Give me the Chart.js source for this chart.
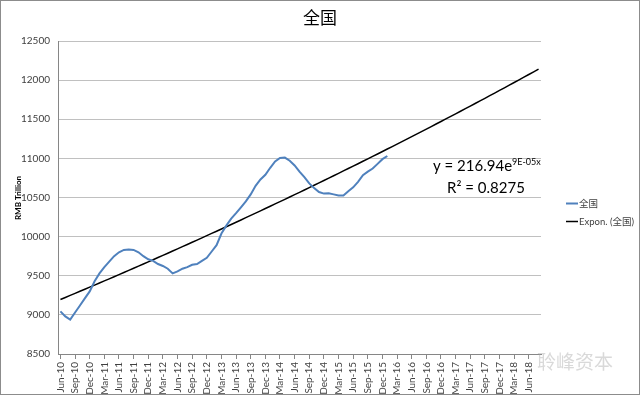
<!DOCTYPE html>
<html>
<head>
<meta charset="utf-8">
<title>全国</title>
<script src="https://cdn.jsdelivr.net/npm/chart.js@4.4.1/dist/chart.umd.min.js"></script>
<style>
  html, body { margin: 0; padding: 0; background: #fff; }
  canvas { display: block; }
</style>
</head>
<body>
<canvas id="lineChart" width="640" height="395"></canvas>
<script>
// Monthly categories, Jun-10 .. Aug-18
const months = [
    'Jun-10', 'Jul-10', 'Aug-10', 'Sep-10', 'Oct-10', 'Nov-10', 'Dec-10',
    'Jan-11', 'Feb-11', 'Mar-11', 'Apr-11', 'May-11', 'Jun-11', 'Jul-11', 'Aug-11', 'Sep-11', 'Oct-11', 'Nov-11', 'Dec-11',
    'Jan-12', 'Feb-12', 'Mar-12', 'Apr-12', 'May-12', 'Jun-12', 'Jul-12', 'Aug-12', 'Sep-12', 'Oct-12', 'Nov-12', 'Dec-12',
    'Jan-13', 'Feb-13', 'Mar-13', 'Apr-13', 'May-13', 'Jun-13', 'Jul-13', 'Aug-13', 'Sep-13', 'Oct-13', 'Nov-13', 'Dec-13',
    'Jan-14', 'Feb-14', 'Mar-14', 'Apr-14', 'May-14', 'Jun-14', 'Jul-14', 'Aug-14', 'Sep-14', 'Oct-14', 'Nov-14', 'Dec-14',
    'Jan-15', 'Feb-15', 'Mar-15', 'Apr-15', 'May-15', 'Jun-15', 'Jul-15', 'Aug-15', 'Sep-15', 'Oct-15', 'Nov-15', 'Dec-15',
    'Jan-16', 'Feb-16', 'Mar-16', 'Apr-16', 'May-16', 'Jun-16', 'Jul-16', 'Aug-16', 'Sep-16', 'Oct-16', 'Nov-16', 'Dec-16',
    'Jan-17', 'Feb-17', 'Mar-17', 'Apr-17', 'May-17', 'Jun-17', 'Jul-17', 'Aug-17', 'Sep-17', 'Oct-17', 'Nov-17', 'Dec-17',
    'Jan-18', 'Feb-18', 'Mar-18', 'Apr-18', 'May-18', 'Jun-18', 'Jul-18', 'Aug-18'
];

// 全国 series (RMB Trillion), Jun-10 .. Jan-16
const nationalValues = [
    9045, 8980, 8940, 9030, 9120, 9210, 9300, 9430, 9530, 9610,
    9680, 9750, 9800, 9830, 9835, 9830, 9800, 9750, 9710, 9690,
    9650, 9625, 9590, 9530, 9555, 9590, 9610, 9640, 9650, 9690,
    9730, 9810, 9890, 10040, 10140, 10230, 10300, 10375, 10450, 10540,
    10650, 10730, 10790, 10880, 10960, 11005, 11010, 10970, 10910, 10830,
    10760, 10680, 10620, 10570, 10550, 10555, 10540, 10525, 10525, 10580,
    10630, 10700, 10785, 10830, 10870, 10930, 10990, 11030
];

const yTicks = [8500, 9000, 9500, 10000, 10500, 11000, 11500, 12000, 12500];
const equationText = 'y = 216.94e';
const equationExp = '9E-05x';
const r2Text = 'R² = 0.8275';

// Exponential trendline (least squares on ln y), extended over all months
let sx = 0, sy = 0, sxx = 0, sxy = 0;
nationalValues.forEach(function(v, i) {
    const l = Math.log(v);
    sx += i; sy += l; sxx += i * i; sxy += i * l;
});
const n = nationalValues.length;
const b = (n * sxy - sx * sy) / (n * sxx - sx * sx);
const a = Math.exp((sy - b * sx) / n);
const trendValues = months.map(function(m, i) { return a * Math.exp(b * i); });

const seriesData = months.map(function(m, i) {
    return i < nationalValues.length ? nationalValues[i] : null;
});

const latin = 'Lato, "Noto Sans CJK SC", sans-serif';
const cjk = '"Noto Sans CJK SC", Lato, sans-serif';

// Title, axis title, legend, equation, watermark and border
const decorations = {
    id: 'decorations',
    afterDraw: function(chart) {
        const c = chart.ctx;
        c.save();

        c.fillStyle = '#000';
        c.font = '17px ' + cjk;
        c.textAlign = 'center';
        c.textBaseline = 'middle';
        c.fillText('全国', 320, 18);

        c.save();
        c.translate(18, 198);
        c.rotate(-Math.PI / 2);
        c.font = 'bold 8px ' + latin;
        c.fillText('RMB Trillion', 0, 0);
        c.restore();

        // legend
        c.lineWidth = 2;
        c.strokeStyle = '#4F81BD';
        c.beginPath(); c.moveTo(566, 203.5); c.lineTo(578, 203.5); c.stroke();
        c.strokeStyle = '#000';
        c.lineWidth = 1.5;
        c.beginPath(); c.moveTo(566, 221.5); c.lineTo(578, 221.5); c.stroke();
        c.fillStyle = '#404040';
        c.textAlign = 'left';
        c.font = '9.5px ' + latin;
        c.fillText('全国', 579, 204);
        c.fillText('Expon. (全国)', 579, 222);

        // equation
        c.fillStyle = '#000';
        c.textBaseline = 'alphabetic';
        c.font = '15px ' + latin;
        c.fillText(equationText, 433, 171);
        const w = c.measureText(equationText).width;
        c.font = '9px ' + latin;
        c.fillText(equationExp, 433 + w, 165);
        c.font = '15px ' + latin;
        c.fillText(r2Text, 447, 193);

        // watermark
        c.fillStyle = 'rgba(170, 170, 170, 0.45)';
        c.font = '19px ' + cjk;
        c.textBaseline = 'middle';
        c.fillText('聆峰资本', 537, 362);

        c.strokeStyle = '#8c8c8c';
        c.lineWidth = 1;
        c.strokeRect(0.5, 0.5, 639, 394);
        c.restore();
    }
};

const ctx = document.getElementById('lineChart').getContext('2d');
const lineChart = new Chart(ctx, {
    type: 'line',
    data: {
        labels: months,
        datasets: [{
            label: '全国',
            data: seriesData,
            borderColor: '#4F81BD',
            borderWidth: 2,
            pointRadius: 0,
            tension: 0,
            spanGaps: false
        }, {
            label: 'Expon. (全国)',
            data: trendValues,
            borderColor: '#000',
            borderWidth: 1.5,
            pointRadius: 0,
            tension: 0
        }]
    },
    options: {
        responsive: false,
        animation: false,
        devicePixelRatio: 1,
        layout: { padding: { left: 0, top: 41, right: 99, bottom: 0 } },
        plugins: {
            legend: { display: false },
            title: { display: false },
            tooltip: { enabled: false }
        },
        scales: {
            x: {
                offset: true,
                afterFit: function(s) { s.height = 41; },
                border: { display: true, color: '#868686' },
                grid: {
                    drawOnChartArea: false,
                    tickLength: 5,
                    color: function(c) { return c.index % 3 === 0 ? '#868686' : 'rgba(0,0,0,0)'; }
                },
                ticks: {
                    autoSkip: false,
                    maxRotation: 90,
                    minRotation: 90,
                    padding: 3,
                    color: '#404040',
                    font: { family: latin, size: 10 },
                    callback: function(v, i) { return i % 3 === 0 ? months[i] : ''; }
                }
            },
            y: {
                min: yTicks[0],
                max: yTicks[yTicks.length - 1],
                afterFit: function(s) { s.width = 58; },
                afterBuildTicks: function(s) { s.ticks = yTicks.map(function(v) { return { value: v }; }); },
                border: { display: true, color: '#868686' },
                grid: { color: '#c0c0c0', drawTicks: false },
                ticks: {
                    padding: 8,
                    color: '#404040',
                    font: { family: latin, size: 10 },
                    callback: function(v) { return String(v); }
                }
            }
        }
    },
    plugins: [decorations]
});
</script>
</body>
</html>
